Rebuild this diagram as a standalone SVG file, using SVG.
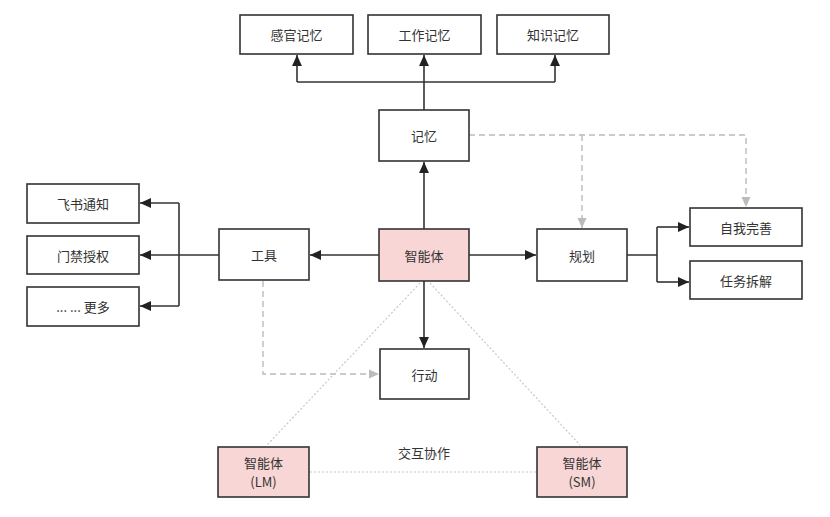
<svg xmlns="http://www.w3.org/2000/svg" width="830" height="517" viewBox="0 0 830 517">
<style>
.box{fill:#fff;stroke:#333;stroke-width:1.6}
.pink{fill:#f8d6d5;stroke:#333;stroke-width:1.6}
.t{font-family:"Noto Sans CJK SC","Liberation Sans",sans-serif;font-size:13px;fill:#333;text-anchor:middle;dominant-baseline:central}
.e{fill:none;stroke:#333;stroke-width:1.6}
.d{fill:none;stroke:#bbb;stroke-width:1.4;stroke-dasharray:6 4}
.o{fill:none;stroke:#c8c8c8;stroke-width:1.2;stroke-dasharray:2 2}
</style>
<defs>
<marker id="a" viewBox="0 0 10 10" refX="10" refY="5" markerWidth="11" markerHeight="11" markerUnits="userSpaceOnUse" orient="auto"><path d="M0,0.5 L10,5 L0,9.5 z" fill="#222"/></marker>
<marker id="g" viewBox="0 0 10 10" refX="10" refY="5" markerWidth="10" markerHeight="10" markerUnits="userSpaceOnUse" orient="auto"><path d="M0,0.5 L10,5 L0,9.5 z" fill="#bbb"/></marker>
</defs>
<rect width="830" height="517" fill="#fff"/>
<g id="connectors">
<path class="e" d="M424,110 V55" marker-end="url(#a)"/>
<path class="e" d="M297,82 H555"/>
<path class="e" d="M297,82 V55" marker-end="url(#a)"/>
<path class="e" d="M555,82 V55" marker-end="url(#a)"/>
<path class="e" d="M424,229 V162" marker-end="url(#a)"/>
<path class="e" d="M379,255 H310" marker-end="url(#a)"/>
<path class="e" d="M469,255 H536" marker-end="url(#a)"/>
<path class="e" d="M424,281 V348" marker-end="url(#a)"/>
<path class="e" d="M219,255 H140" marker-end="url(#a)"/>
<path class="e" d="M179,203 V306"/>
<path class="e" d="M179,203 H140" marker-end="url(#a)"/>
<path class="e" d="M179,306 H140" marker-end="url(#a)"/>
<path class="e" d="M627,255 H657 M657,227 V282"/>
<path class="e" d="M657,227 H689" marker-end="url(#a)"/>
<path class="e" d="M657,282 H689" marker-end="url(#a)"/>
<path class="d" d="M469,135 H746 V207" marker-end="url(#g)"/>
<path class="d" d="M582,135 V228" marker-end="url(#g)"/>
<path class="d" d="M263,281 V374 H379" marker-end="url(#g)"/>
<path class="o" d="M420,283 L267,445"/>
<path class="o" d="M430,283 L580,445"/>
<path class="o" d="M310,472 H537"/>
</g>
<g id="n-ganguan"><rect class="box" x="240" y="15" width="113" height="39"/><text class="t" x="296.5" y="34.5">感官记忆</text></g>
<g id="n-gongzuo"><rect class="box" x="368" y="15" width="113" height="39"/><text class="t" x="424.5" y="34.5">工作记忆</text></g>
<g id="n-zhishi"><rect class="box" x="497" y="15" width="112" height="39"/><text class="t" x="553" y="34.5">知识记忆</text></g>
<g id="n-jiyi"><rect class="box" x="379" y="110" width="90" height="51"/><text class="t" x="424" y="135.5">记忆</text></g>
<g id="n-agent"><rect class="pink" x="379" y="229" width="90" height="52"/><text class="t" x="424" y="255">智能体</text></g>
<g id="n-gongju"><rect class="box" x="219" y="229" width="90" height="51"/><text class="t" x="264" y="254.5">工具</text></g>
<g id="n-guihua"><rect class="box" x="537" y="229" width="90" height="52"/><text class="t" x="582" y="255">规划</text></g>
<g id="n-feishu"><rect class="box" x="27" y="184" width="112" height="39"/><text class="t" x="83" y="203.5">飞书通知</text></g>
<g id="n-menjin"><rect class="box" x="27" y="236" width="112" height="38"/><text class="t" x="83" y="255">门禁授权</text></g>
<g id="n-more"><rect class="box" x="27" y="287" width="112" height="39"/><text class="t" x="83" y="306.5">... ... 更多</text></g>
<g id="n-ziwo"><rect class="box" x="690" y="208" width="112" height="38"/><text class="t" x="746" y="227">自我完善</text></g>
<g id="n-renwu"><rect class="box" x="690" y="261" width="112" height="38"/><text class="t" x="746" y="280">任务拆解</text></g>
<g id="n-xingdong"><rect class="box" x="380" y="349" width="89" height="50"/><text class="t" x="424.5" y="374">行动</text></g>
<g id="n-lm"><rect class="pink" x="218" y="447" width="91" height="50"/><text class="t" x="263.5" y="462">智能体</text><text class="t" x="263.5" y="481.5">(LM)</text></g>
<g id="n-sm"><rect class="pink" x="537" y="447" width="90" height="50"/><text class="t" x="582" y="462">智能体</text><text class="t" x="582" y="481.5">(SM)</text></g>
<text class="t" x="424" y="452">交互协作</text>
</svg>
